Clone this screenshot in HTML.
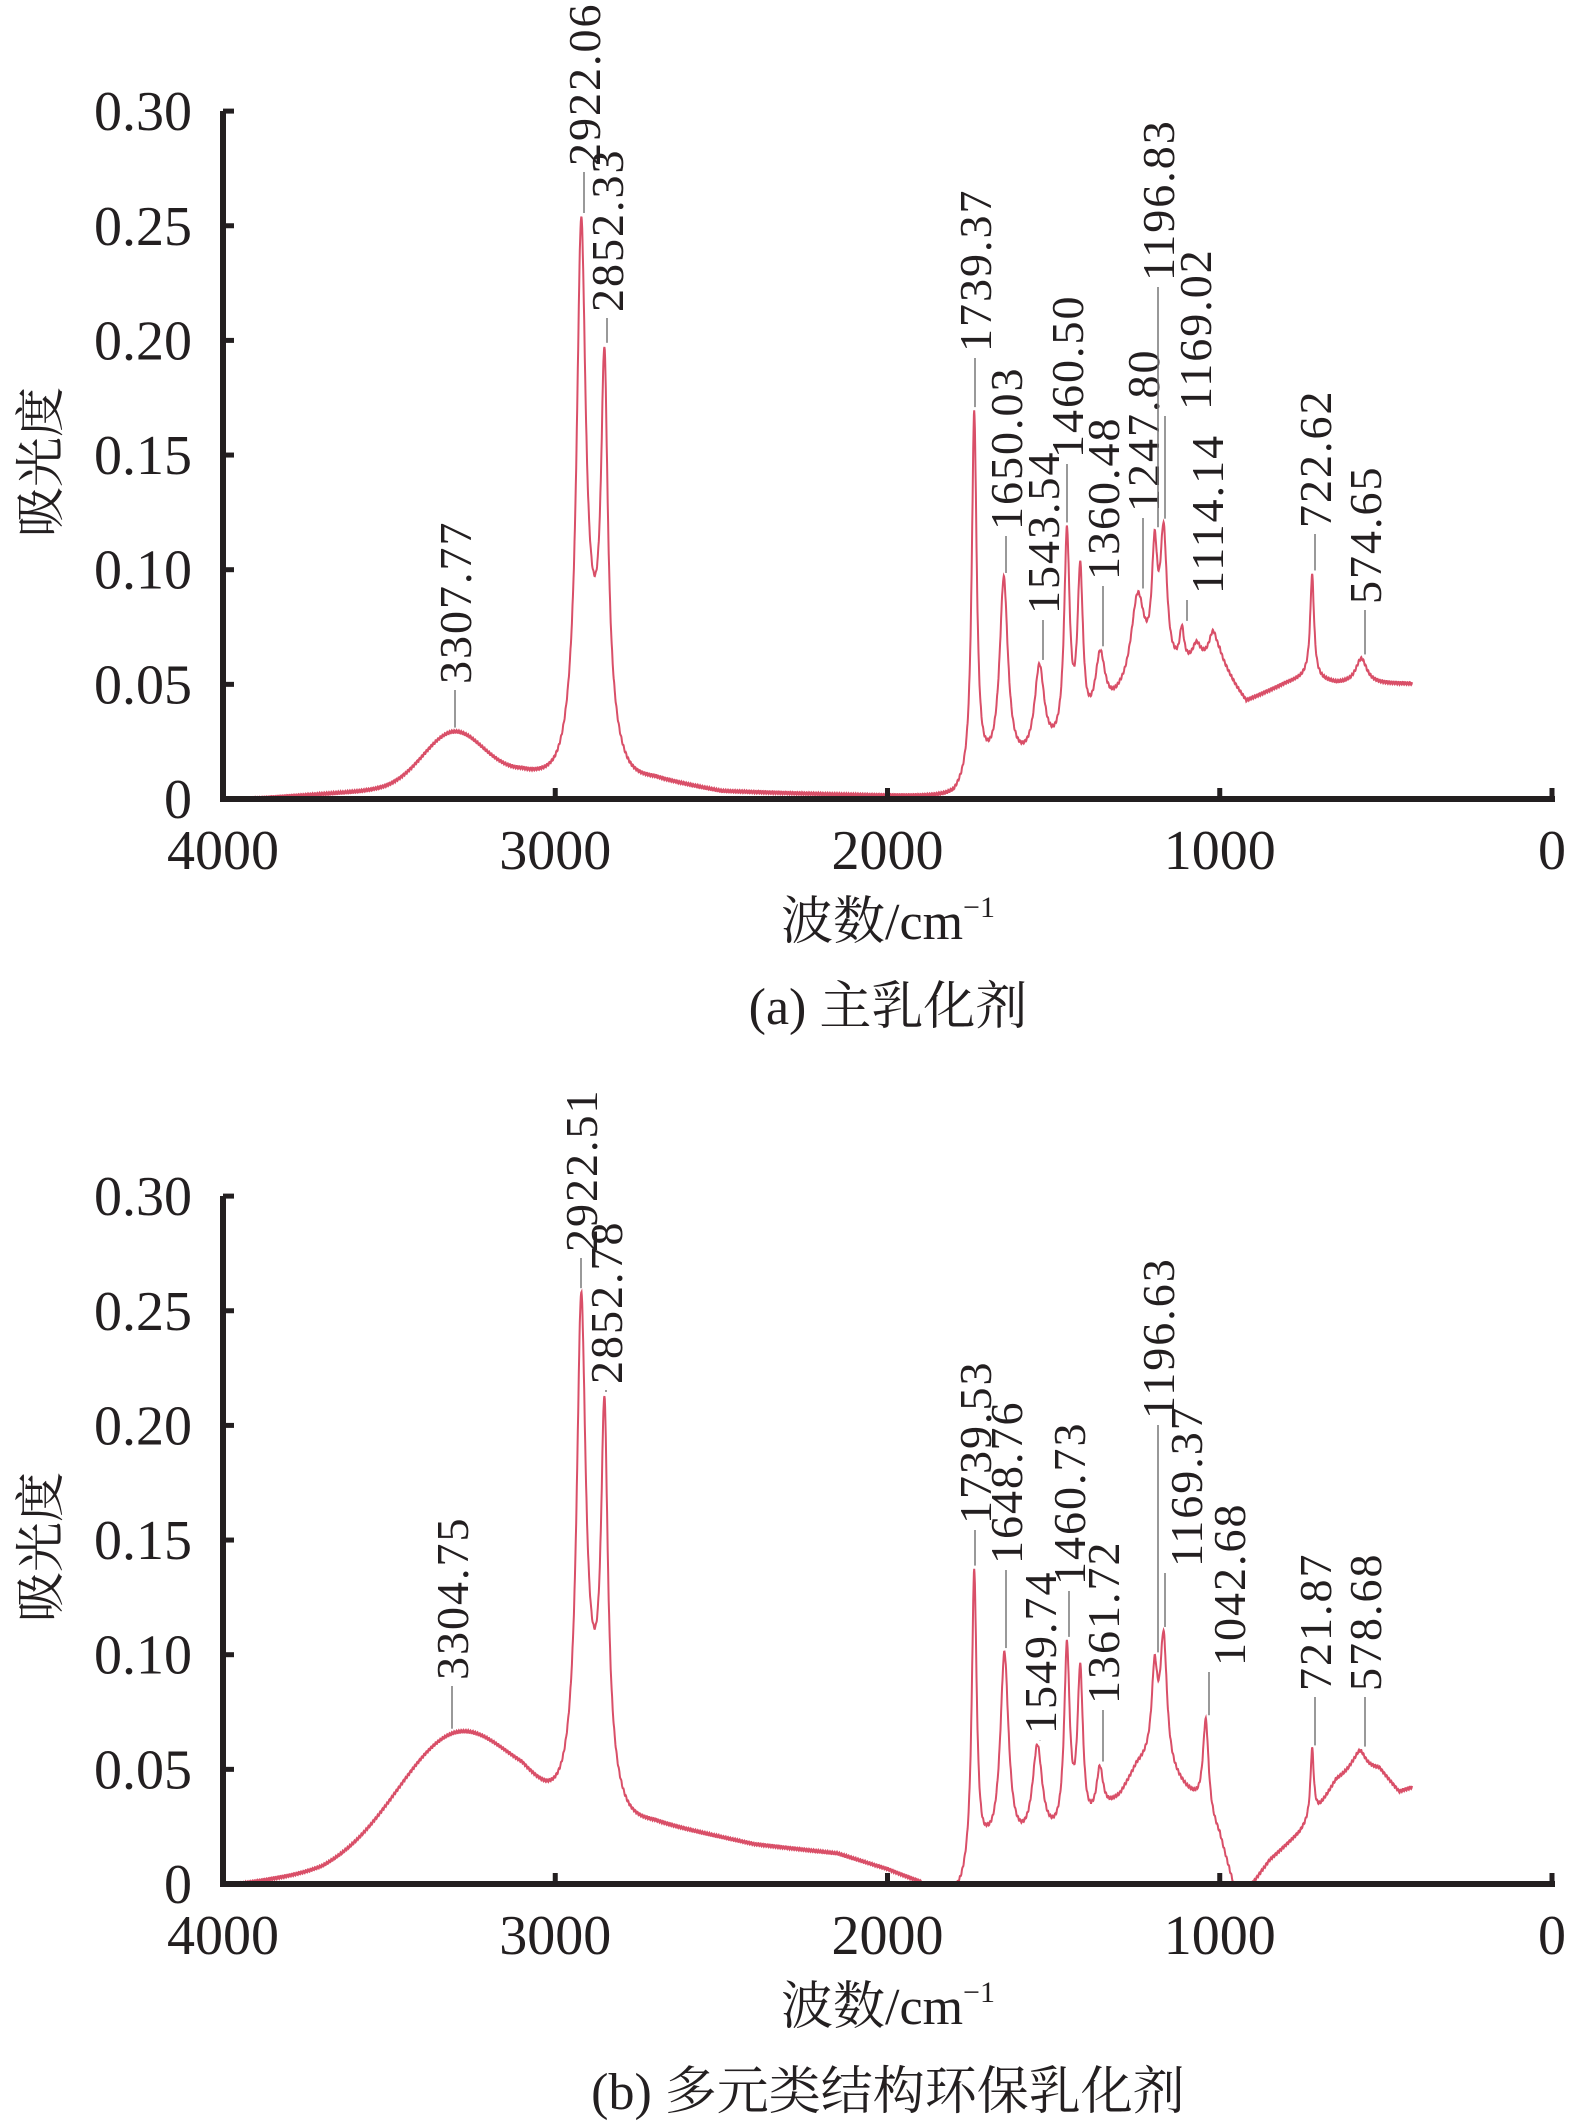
<!DOCTYPE html>
<html><head><meta charset="utf-8"><style>
html,body{margin:0;padding:0;background:#fff;}
svg{display:block;}
.t{font-family:"Liberation Serif","Noto Serif CJK SC",serif;fill:#231f20;}
</style></head><body>
<svg id="s" width="1575" height="2126" xmlns="http://www.w3.org/2000/svg"></svg>
<script>
const S=document.getElementById('s');
const NS='http://www.w3.org/2000/svg';
function el(t,a,txt){const e=document.createElementNS(NS,t);for(const k in a)e.setAttribute(k,a[k]);if(txt!==undefined)e.textContent=txt;S.appendChild(e);return e;}
const X0=223,KX=0.33225,KY=2293;
const X=w=>X0+(4000-w)*KX;
function interp(pts,w){for(let i=0;i<pts.length-1;i++){const a=pts[i],b=pts[i+1];if(w<=a[0]&&w>=b[0]){return a[1]+(b[1]-a[1])*(a[0]-w)/(a[0]-b[0]);}}return pts[pts.length-1][1];}
function spec(bg,pk,w){let y=interp(bg,w);for(const p of pk){if(p[0]=='G'){y+=p[2]*Math.exp(-0.5*Math.pow((w-p[1])/p[3],2));}else{y+=p[2]/(1+Math.pow((w-p[1])/p[3],2));}}return y;}
function chart(oy,cfg){
  const Y=v=>oy-v*KY;
  const cpth=el('clipPath',{id:'c'+oy});
  const cp=document.createElementNS(NS,'rect');cpth.appendChild(cp);
  cp.setAttribute('x',X0);cp.setAttribute('y',oy-800);cp.setAttribute('width',1400);cp.setAttribute('height',800);
  let d='';
  for(let w=cfg.start;w>=421;w-=1){const v=spec(cfg.bg,cfg.pk,w)+ (Math.sin(w*0.9)*0.0006);d+=(d?'L':'M')+X(w).toFixed(1)+' '+Y(v).toFixed(1);}
  el('path',{d:d,fill:'none',stroke:'#d94f68','stroke-width':2,'clip-path':'url(#c'+oy+')'});
  el('line',{x1:X0,y1:oy-688,x2:X0,y2:oy+2,stroke:'#231f20','stroke-width':6});
  el('line',{x1:X0-3,y1:oy,x2:1555,y2:oy,stroke:'#231f20','stroke-width':6});
  const yl=['0','0.05','0.10','0.15','0.20','0.25','0.30'];
  for(let i=0;i<7;i++){const yy=oy-i*0.05*KY;
    if(i>0)el('line',{x1:X0,y1:yy,x2:X0+11,y2:yy,stroke:'#231f20','stroke-width':5});
    el('text',{x:192,y:yy+19,'text-anchor':'end','font-size':56,class:'t'},yl[i]);}
  for(let i=0;i<=4;i++){const xx=X0+i*332.25;
    if(i>0)el('line',{x1:xx,y1:oy,x2:xx,y2:oy-11,stroke:'#231f20','stroke-width':5});
    el('text',{x:xx,y:oy+70,'text-anchor':'middle','font-size':56,class:'t'},String(4000-i*1000));}
  el('text',{x:0,y:0,'font-size':50,class:'t','text-anchor':'middle',transform:'translate(58,'+(oy-337)+') rotate(-90)'},'吸光度');
  const t=el('text',{x:888,y:oy+140,'font-size':52,class:'t','text-anchor':'middle'},'波数/cm');
  const ts=document.createElementNS(NS,'tspan');ts.setAttribute('font-size',30);ts.setAttribute('dy',-22);ts.textContent='−1';t.appendChild(ts);
  el('text',{x:888,y:oy+225,'font-size':52,class:'t','text-anchor':'middle'},cfg.cap);
  for(const L of cfg.lab){const lx=L[1],ty=L[2];const py=Y(spec(cfg.bg,cfg.pk,L[3]))-4;
    el('line',{x1:lx,y1:ty+2,x2:lx,y2:py,stroke:'#777','stroke-width':1.5});
    el('text',{x:0,y:0,'font-size':46,class:'t','letter-spacing':2,transform:'translate('+(lx+(L[4]||16))+','+(ty-4)+') rotate(-90)'},L[0]);}
}
chart(799,{start:3918,cap:'(a) 主乳化剂',
 bg:[[3918,0],[3500,0.004],[3100,0.01],[3000,0.008],[2700,0.008],[2500,0.003],[2000,0.001],[1800,0],[1760,0.004],[1700,0.01],[1550,0.014],[1400,0.025],[1300,0.04],[1200,0.05],[1050,0.058],[1000,0.06],[950,0.048],[920,0.042],[800,0.05],[740,0.053],[650,0.05],[600,0.05],[421,0.05]],
 pk:[['G',3307,0.022,90],['L',2922,0.213,16],['L',2852,0.148,12],['G',2885,0.04,45],['L',1739,0.16,9],['L',1650,0.082,15],['L',1543,0.04,18],['L',1460,0.09,10],['L',1420,0.07,10],['L',1360,0.028,18],['L',1247,0.04,25],['L',1196,0.048,10],['L',1169,0.058,12],['L',1114,0.015,8],['L',1070,0.008,15],['L',1020,0.012,15],['L',722,0.045,7],['L',574,0.011,20]],
 lab:[['3307.77',455,688,3307],['2922.06',584,170,2922],['2852.33',607,316,2852],['1739.37',975,356,1739],['1650.03',1006,534,1650],['1543.54',1043,618,1543],['1460.50',1067,462,1460],['1360.48',1103,584,1360],['1247.80',1143,516,1247],['1196.83',1158,285,1196],['1169.02',1165,414,1169,46],['1114.14',1187,598,1114,36],['722.62',1315,532,722],['574.65',1365,608,574]]});
chart(1884,{start:3950,cap:'(b) 多元类结构环保乳化剂',
 bg:[[3950,0],[3700,0.005],[3100,0.03],[3030,0.028],[2700,0.026],[2400,0.017],[2150,0.013],[2000,0.006],[1900,0.0],[1850,-0.01],[1780,-0.004],[1700,0.012],[1550,0.015],[1400,0.022],[1300,0.037],[1250,0.05],[1200,0.055],[1100,0.04],[1050,0.033],[1000,0.02],[950,-0.005],[900,0.0],[850,0.01],[760,0.022],[700,0.033],[650,0.045],[600,0.05],[520,0.05],[460,0.04],[421,0.042]],
 pk:[['G',3304,0.044,170],['L',2922,0.198,16],['L',2852,0.148,12],['G',2885,0.035,45],['L',1739,0.13,9],['L',1648,0.085,15],['L',1549,0.042,18],['L',1460,0.08,10],['L',1420,0.068,10],['L',1361,0.02,12],['L',1196,0.035,10],['L',1169,0.055,12],['L',1042,0.04,10],['L',722,0.03,6],['L',578,0.008,20]],
 lab:[['3304.75',452,1684,3304],['2922.51',581,1256,2922],['2852.78',606,1388,2852],['1739.53',975,1528,1739],['1648.76',1006,1568,1648],['1549.74',1040,1738,1549],['1460.73',1069,1589,1460],['1361.72',1103,1708,1361],['1196.63',1158,1423,1196],['1169.37',1165,1571,1169,37],['1042.68',1209,1670,1042,36],['721.87',1315,1695,721],['578.68',1365,1695,578]]});
</script>
</body></html>
